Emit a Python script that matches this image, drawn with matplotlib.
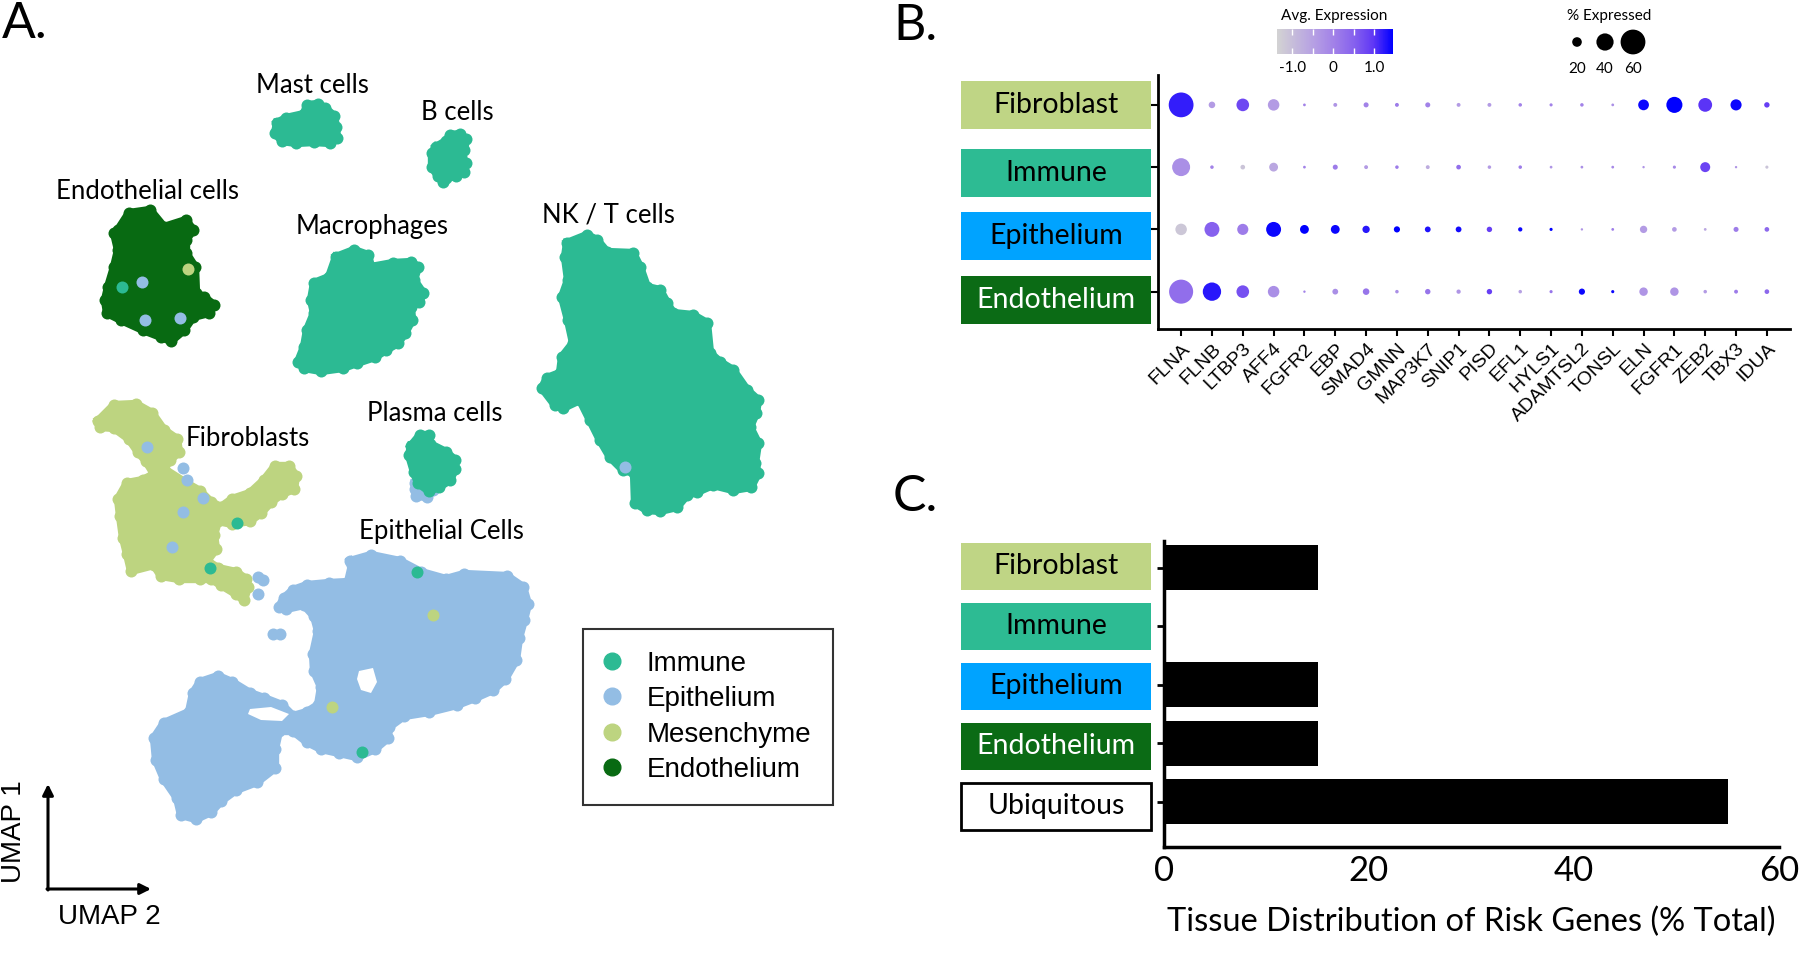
import numpy as np
import matplotlib.pyplot as plt
import matplotlib.transforms as mtransforms
from matplotlib.colors import LinearSegmentedColormap, Normalize
from matplotlib.patches import Rectangle
from matplotlib.lines import Line2D

plt.rcParams['font.family'] = ['Lato', 'DejaVu Sans']
ARIAL = ['Liberation Sans', 'DejaVu Sans']

# ---------------- panel A: UMAP clusters (outline points) ----------------
immune_col = "#2CBA93"
epith_col = "#93BDE4"
mesen_col = "#BDD480"
endo_col = "#086A12"

endothelial_outline = [(118, 230), (129, 213), (150, 210), (164, 227), (186, 220), (193, 230), (186, 240),
                       (186, 253), (195, 267), (196, 293), (204, 297), (214, 305), (209, 313), (193, 317),
                       (184, 330), (171, 341), (161, 337), (143, 330), (121, 320), (107, 313), (105, 300),
                       (108, 287), (114, 267), (118, 250), (114, 233)]
macrophage_outline = [(336, 257), (354, 250), (368, 255), (371, 267), (393, 263), (411, 262), (418, 267),
                      (414, 280), (423, 293), (419, 302), (411, 307), (412, 320), (405, 333), (398, 343),
                      (386, 350), (375, 357), (357, 363), (343, 368), (321, 371), (304, 368), (298, 362),
                      (304, 347), (307, 330), (314, 313), (311, 300), (314, 283), (329, 277)]
mast_outline = [(277, 123), (286, 118), (304, 114), (307, 105), (318, 104), (325, 108), (334, 116),
                (336, 127), (337, 138), (330, 143), (314, 142), (296, 143), (282, 141), (275, 133)]
bcell_outline = [(436, 147), (446, 141), (450, 135), (460, 134), (466, 139), (464, 150), (461, 157),
                 (466, 163), (464, 172), (456, 176), (446, 178), (443, 182), (438, 176), (432, 167), (432, 153)]
nkt_outline = [(567, 243), (587, 235), (597, 240), (607, 252), (633, 253), (640, 267), (647, 287), (660, 290),
               (667, 303), (673, 313), (693, 315), (707, 323), (710, 353), (720, 362), (733, 370), (747, 390),
               (758, 400), (756, 413), (750, 427), (758, 443), (755, 463), (758, 473), (751, 487), (733, 490),
               (713, 485), (697, 492), (687, 495), (677, 507), (660, 511), (647, 510), (635, 503), (634, 473),
               (623, 470), (610, 457), (600, 440), (590, 420), (580, 400), (563, 408), (555, 405), (542, 388),
               (547, 378), (560, 373), (562, 357), (573, 343), (568, 320), (562, 297), (568, 280), (565, 257)]
plasma_outline = [(411, 446), (420, 435), (429, 435), (430, 444), (446, 452), (455, 460), (455, 469),
                  (450, 480), (439, 487), (429, 491), (418, 483), (414, 472), (409, 455)]
plasma_epi_outline = [(415, 483), (429, 482), (433, 490), (427, 497), (416, 496), (415, 489)]
fibro_outline = [(98, 421), (114, 405), (136, 404), (152, 413), (164, 430), (177, 439), (179, 452), (170, 460),
                 (164, 469), (186, 483), (200, 491), (211, 502), (221, 507), (232, 499), (250, 493), (264, 480),
                 (275, 466), (289, 466), (296, 476), (294, 489), (282, 494), (271, 502), (261, 513), (250, 521),
                 (232, 524), (218, 521), (214, 535), (216, 549), (207, 561), (218, 568), (236, 572), (246, 579),
                 (248, 587), (244, 600), (236, 594), (221, 585), (211, 579), (200, 579), (179, 579), (161, 576),
                 (154, 565), (131, 571), (127, 554), (123, 538), (120, 516), (118, 499), (127, 483), (143, 480),
                 (154, 474), (146, 461), (138, 452), (129, 439), (114, 428), (100, 427)]
epith_outline = [(350, 561), (371, 555), (400, 561), (421, 572), (446, 579), (464, 574), (507, 576), (523, 587),
                 (528, 604), (524, 620), (519, 638), (516, 660), (505, 679), (493, 690), (475, 698), (457, 705),
                 (429, 712), (404, 716), (389, 727), (388, 738), (375, 749), (357, 757), (339, 753), (321, 749),
                 (307, 742), (293, 731), (279, 731), (275, 749), (275, 768), (257, 782), (236, 790), (221, 801),
                 (211, 812), (196, 819), (181, 815), (177, 798), (164, 779), (156, 760), (154, 738), (164, 723),
                 (189, 712), (193, 693), (200, 682), (218, 676), (232, 682), (250, 693), (264, 698), (282, 705),
                 (293, 716), (307, 712), (318, 705), (321, 687), (314, 671), (313, 654), (318, 631), (314, 616),
                 (304, 605), (286, 609), (279, 607), (284, 598), (293, 590), (307, 585), (329, 583), (348, 582),
                 (352, 565)]
epith_holes = [[(250, 709), (271, 707), (289, 714), (282, 721), (261, 720), (248, 714)],
               [(359, 671), (373, 668), (377, 682), (371, 693), (361, 690), (357, 679)]]

# stray cells of another type sitting inside / next to a cluster
speck_xy = [(142, 282), (180, 318), (145, 320), (147, 447), (183, 468), (187, 480), (203, 498), (183, 512),
            (172, 547), (258, 577), (263, 580), (258, 594), (273, 634), (280, 634), (625, 467),
            (122, 287), (210, 568), (237, 523), (417, 572), (362, 752),
            (188, 269), (433, 615), (332, 707)]
speck_type = ["Epithelium"] * 15 + ["Immune"] * 5 + ["Mesenchyme"] * 3

clusters = [(endothelial_outline, endo_col), (mast_outline, immune_col), (bcell_outline, immune_col),
            (macrophage_outline, immune_col), (nkt_outline, immune_col), (plasma_epi_outline, epith_col),
            (plasma_outline, immune_col), (fibro_outline, mesen_col), (epith_outline, epith_col)]

cluster_names = ["Mast cells", "B cells", "Endothelial cells", "Macrophages", "NK / T cells",
                 "Plasma cells", "Fibroblasts", "Epithelial Cells"]
cluster_label_xy = [(312, 93), (457, 120), (147, 199), (372, 234), (608, 222), (435, 421), (248, 446), (441, 539)]

legend_types = ["Immune", "Epithelium", "Mesenchyme", "Endothelium"]
legend_colors = [immune_col, epith_col, mesen_col, endo_col]

# ---------------- panel B: dot plot ----------------
genes = ["FLNA", "FLNB", "LTBP3", "AFF4", "FGFR2", "EBP", "SMAD4", "GMNN", "MAP3K7", "SNIP1",
         "PISD", "EFL1", "HYLS1", "ADAMTSL2", "TONSL", "ELN", "FGFR1", "ZEB2", "TBX3", "IDUA"]
dot_rows = ["Fibroblast", "Immune", "Epithelium", "Endothelium"]
pct_fibroblast = [60, 12, 28, 25, 2, 5, 8, 5, 8, 5, 5, 4, 3, 4, 2, 23, 37, 31, 24, 9]
pct_immune = [42, 4, 7, 18, 2, 8, 5, 4, 5, 7, 4, 4, 2, 2, 2, 1, 3, 21, 1, 3]
pct_epithelium = [25, 34, 24, 34, 18, 18, 14, 11, 10, 10, 9, 6, 3, 1, 2, 14, 7, 2, 8, 7]
pct_endothelium = [58, 43, 28, 25, 1, 10, 12, 4, 9, 6, 9, 4, 3, 11, 3, 17, 17, 4, 5, 7]
avg_fibroblast = [1.2, -0.4, 0.8, -0.4, 0.0, -0.3, 0.0, 0.1, 0.0, -0.4,
                  -0.4, 0.0, 0.0, 0.0, -0.2, 1.4, 1.45, 1.0, 1.4, 0.9]
avg_immune = [-0.2, 0.0, -1.1, -0.6, 0.0, 0.1, -0.4, 0.1, -0.7, 0.3,
              -0.4, 0.1, -0.3, -0.2, -0.1, -0.3, -0.1, 0.85, -0.3, -1.1]
avg_epithelium = [-1.15, 0.5, 0.1, 1.4, 1.45, 1.4, 1.25, 1.45, 1.3, 1.35,
                  0.9, 1.4, 1.45, -0.3, 0.1, -0.4, -0.4, -0.6, 0.1, 0.4]
avg_endothelium = [0.3, 1.25, 0.7, -0.2, 0.0, -0.2, 0.2, -0.2, 0.2, -0.3,
                   0.9, -0.5, 0.2, 1.4, 1.4, -0.3, -0.3, -0.4, 0.1, 0.4]
pct_rows = [pct_fibroblast, pct_immune, pct_epithelium, pct_endothelium]
avg_rows = [avg_fibroblast, avg_immune, avg_epithelium, avg_endothelium]
size_legend_pct = [20, 40, 60]

# ---------------- panel C: bar chart ----------------
tissue_cats = ["Fibroblast", "Immune", "Epithelium", "Endothelium", "Ubiquitous"]
tissue_pct = [15, 0, 15, 15, 55]

box_fill = {"Fibroblast": "#BFD585", "Immune": "#2DBB93", "Epithelium": "#00A3FF",
            "Endothelium": "#0B6B15", "Ubiquitous": "white"}
box_text = {"Fibroblast": "black", "Immune": "black", "Epithelium": "black",
            "Endothelium": "white", "Ubiquitous": "black"}

W, H = 1800, 959
fig = plt.figure(figsize=(W / 100, H / 100), dpi=100)
px = mtransforms.Affine2D().scale(1 / W, -1 / H).translate(0, 1) + fig.transFigure  # figure pixels, y down

# ---- A ----
ax_a = fig.add_axes([0, 0, 0.5, 1])
ax_a.set_xlim(0, 900)
ax_a.set_ylim(959, 0)
ax_a.axis("off")

dot_s = (12 * 0.72) ** 2
for pts, col in clusters:
    xs, ys = zip(*pts)
    ax_a.fill(xs, ys, color=col, lw=0, zorder=2)
    ax_a.plot(list(xs) + [xs[0]], list(ys) + [ys[0]], color=col, lw=6, solid_joinstyle="round", zorder=2)
    ax_a.scatter(xs, ys, s=dot_s, color=col, lw=0, zorder=2)
for hole in epith_holes:
    xs, ys = zip(*hole)
    ax_a.fill(xs, ys, color="white", lw=0, zorder=3)

type_col = dict(zip(legend_types, legend_colors))
for (x, y), t in zip(speck_xy, speck_type):
    ax_a.scatter(x, y, s=dot_s, color=type_col[t], lw=0, zorder=4)

for name, (x, y) in zip(cluster_names, cluster_label_xy):
    ax_a.text(x, y, name, ha="center", va="baseline", fontsize=18.5, zorder=5)

handles = [Line2D([], [], ls="", marker="o", markersize=12, color=c) for c in legend_colors]
leg = ax_a.legend(handles, legend_types, loc="upper left", bbox_to_anchor=(583, 629),
                  bbox_transform=ax_a.transData, borderaxespad=0, frameon=True, fancybox=False,
                  prop={"family": ARIAL, "size": 20}, handlelength=0.5, handletextpad=1.0,
                  labelspacing=0.34, borderpad=0.78)
leg.get_frame().set_edgecolor("black")
leg.get_frame().set_linewidth(1.5)

arrow_kw = dict(arrowstyle="-|>", lw=2.2, color="black", mutation_scale=16, shrinkA=0, shrinkB=0)
ax_a.annotate("", xy=(48, 784), xytext=(48, 890), arrowprops=arrow_kw)
ax_a.annotate("", xy=(151, 889), xytext=(47, 889), arrowprops=arrow_kw)
ax_a.text(14, 832, "UMAP 1", rotation=90, ha="center", va="center", fontsize=20, family=ARIAL)
ax_a.text(109, 924, "UMAP 2", ha="center", va="baseline", fontsize=20, family=ARIAL)

# ---- B ----
ax_b = fig.add_axes([1158 / W, 1 - 329 / H, 632 / W, 254 / H])
cmap = LinearSegmentedColormap.from_list(
    "grey_blue", [(0, "#D3D3D3"), (0.33, "#B49DE4"), (0.5, "#A07FE8"), (0.67, "#8560EE"),
                  (0.83, "#6037F5"), (1, "#0000FF")])
norm = Normalize(vmin=-1.37, vmax=1.46)


def dot_area(pct):
    d_px = 2 + 0.38 * np.asarray(pct, dtype=float)
    return (d_px * 0.72) ** 2


xs = np.arange(len(genes))
for i, name in enumerate(dot_rows):
    y = len(dot_rows) - 1 - i
    sc = ax_b.scatter(xs, np.full(len(genes), y), s=dot_area(pct_rows[i]), c=avg_rows[i],
                      cmap=cmap, norm=norm, lw=0, zorder=3)
ax_b.set_xlim(-0.75, len(genes) - 0.25)
ax_b.set_ylim(-0.6, 3.48)
for sp in ["top", "right"]:
    ax_b.spines[sp].set_visible(False)
for sp in ["left", "bottom"]:
    ax_b.spines[sp].set_linewidth(2)
ax_b.set_xticks(xs)
ax_b.set_xticklabels(genes, rotation=45, ha="right", rotation_mode="anchor", family=ARIAL, fontsize=14)
ax_b.set_yticks(np.arange(len(dot_rows)))
ax_b.set_yticklabels([])
ax_b.tick_params(length=5, width=1.5, pad=3)

# row label boxes (centres in figure pixels)
b_box_y = [105, 173, 236, 300]
for name, yc in zip(dot_rows, b_box_y):
    fig.add_artist(Rectangle((961, yc - 24), 190, 48, transform=px, facecolor=box_fill[name], edgecolor="none"))
    fig.text(1056 / W, 1 - yc / H, name, ha="center", va="center", fontsize=20.5, color=box_text[name])

cax = fig.add_axes([1277 / W, 1 - 54 / H, 116 / W, 25 / H])
cb = fig.colorbar(sc, cax=cax, orientation="horizontal")
cb.set_ticks([-1.0, -0.5, 0, 0.5, 1.0])
cb.set_ticklabels(["-1.0", "", "0", "", "1.0"])
cb.outline.set_visible(False)
cax.tick_params(axis="x", direction="in", colors="white", length=4, width=1, labelsize=11,
                labelcolor="black", pad=5, top=True)
fig.text(1334 / W, 1 - 16 / H, "Avg. Expression", ha="center", va="center", fontsize=11)

lax = fig.add_axes([1563 / W, 1 - 56 / H, 84 / W, 28 / H])
lax.scatter(np.arange(3), np.zeros(3), s=dot_area(size_legend_pct), color="black", lw=0)
lax.set_xlim(-0.5, 2.5)
lax.set_ylim(-1, 1)
lax.set_xticks(np.arange(3))
lax.set_xticklabels([str(p) for p in size_legend_pct])
lax.tick_params(axis="x", length=0, labelsize=11, pad=4)
lax.set_yticks([])
for sp in lax.spines.values():
    sp.set_visible(False)
lax.patch.set_alpha(0)
fig.text(1609 / W, 1 - 16 / H, "% Expressed", ha="center", va="center", fontsize=11)

# ---- C ----
ax_c = fig.add_axes([1164 / W, 1 - 847 / H, 615 / W, 306 / H])
ypos = np.arange(len(tissue_cats))
ax_c.barh(ypos, tissue_pct, height=0.77, color="black", zorder=3)
ax_c.set_xlim(0, 60)
ax_c.set_ylim(len(tissue_cats) - 1 + 0.77, -0.46)
for sp in ["top", "right"]:
    ax_c.spines[sp].set_visible(False)
for sp in ["left", "bottom"]:
    ax_c.spines[sp].set_linewidth(2.5)
ax_c.set_xticks([0, 20, 40, 60])
ax_c.tick_params(axis="x", length=0, labelsize=25, pad=6)
ax_c.set_yticks(ypos)
ax_c.set_yticklabels([])
ax_c.tick_params(axis="y", length=5, width=2)
ax_c.set_xlabel("Tissue Distribution of Risk Genes (% Total)", fontsize=23.5, labelpad=14)

c_box_y = [566, 626, 686, 746, 806]
for name, yc in zip(tissue_cats, c_box_y):
    fig.add_artist(Rectangle((961, yc - 23.5), 190, 47, transform=px, facecolor=box_fill[name],
                             edgecolor="black" if name == "Ubiquitous" else "none", lw=2))
    fig.text(1056 / W, 1 - yc / H, name, ha="center", va="center", fontsize=20.5, color=box_text[name])

# panel letters
fig.text(2 / W, 1 - 38 / H, "A.", fontsize=36, va="baseline")
fig.text(893 / W, 1 - 40 / H, "B.", fontsize=36, va="baseline")
fig.text(893 / W, 1 - 511 / H, "C.", fontsize=36, va="baseline")

fig.savefig("out.png", dpi=100)
